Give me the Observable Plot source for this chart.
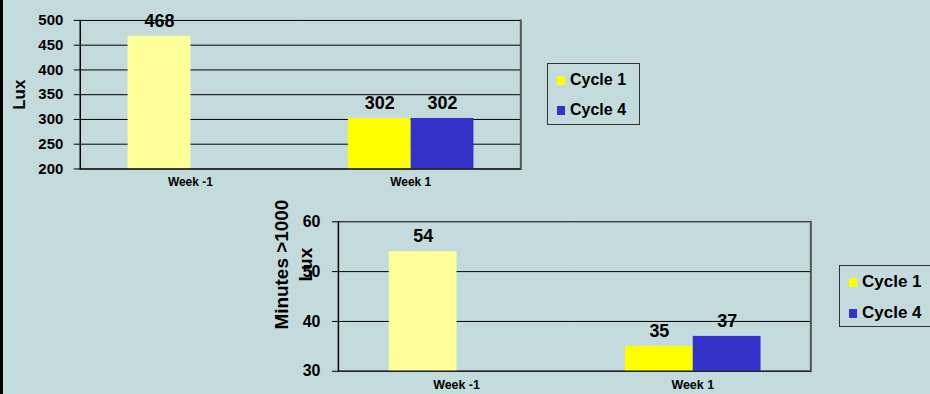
<!DOCTYPE html>
<html>
<head>
<meta charset="utf-8">
<script src="https://cdn.jsdelivr.net/npm/d3@7"></script>
<script src="https://cdn.jsdelivr.net/npm/@observablehq/plot@0.6"></script>
<style>
  html, body { margin: 0; padding: 0; }
  #page {
    position: relative; width: 930px; height: 394px; overflow: hidden;
    background: #c3dbdc; box-sizing: border-box; border-left: 3px solid #000;
    font-family: "Liberation Sans", Arial, sans-serif; font-weight: bold;
  }
  #page svg { position: absolute; left: -3px; top: 0; }
  .legend {
    position: absolute; border: 1px solid #333; box-sizing: border-box;
    background: #c3dbdc;
  }
  .legend .item { position: absolute; white-space: nowrap; color: #000; line-height: 20px; }
  .legend .sw { display: inline-block; width: 8px; height: 9px; margin-right: 5px; vertical-align: 0px; }
</style>
</head>
<body>
<div id="page"></div>
<script>
// Light levels by week and cycle
const weeks = ["Week -1", "Week 1"];
const cycles = ["Cycle 1", "Cycle 4"];
const luxCycle1 = [468, 302];
const luxCycle4 = [null, 302];
const luxTicks = [200, 250, 300, 350, 400, 450, 500];

// Minutes spent above 1000 lux
const minCycle1 = [54, 35];
const minCycle4 = [null, 37];
const minTicks = [30, 40, 50, 60];

const cycleColors = { "Cycle 1": "#ffff00", "Cycle 4": "#3333cc" };
const baselineColor = "#ffff99"; // pre-treatment week

function rows(c1, c4) {
  const out = [];
  weeks.forEach((w, i) => {
    if (c1[i] != null) out.push({ week: w, cycle: "Cycle 1", value: c1[i] });
    if (c4[i] != null) out.push({ week: w, cycle: "Cycle 4", value: c4[i] });
  });
  return out;
}
const fillOf = d => d.week === "Week -1" ? baselineColor : cycleColors[d.cycle];

function groupedChart({ data, ticks, margins, tickFont, labelFont, weekFont, tickPadding, weekPadding, yLabels }) {
  const [lo, hi] = d3.extent(ticks);
  return Plot.plot({
    width: 930, height: 394,
    ...margins,
    style: { background: "transparent", fontFamily: "Liberation Sans, Arial, sans-serif", fontWeight: "bold", overflow: "visible", color: "#000" },
    fx: { domain: weeks, padding: 0, axis: null },
    x: { domain: cycles, paddingInner: 0, paddingOuter: 0.73, axis: null },
    y: { domain: [lo, hi], axis: null },
    marks: [
      Plot.gridY(ticks, { stroke: "#000", strokeOpacity: 1, strokeWidth: 1 }),
      Plot.barY(data, { fx: "week", x: "cycle", y1: lo, y2: "value", fill: fillOf }),
      Plot.text(data, { fx: "week", x: "cycle", y: "value", text: d => String(d.value), dy: -15, fontSize: labelFont, fontWeight: "bold" }),
      Plot.axisY(ticks, { anchor: "left", facetAnchor: "left", tickSize: 6, tickPadding, fontSize: tickFont, label: null, stroke: "#000" }),
      Plot.axisFx({ anchor: "bottom", tickSize: 0, tickPadding: weekPadding, fontSize: weekFont, label: null }),
      Plot.frame({ anchor: "left", facetAnchor: "left", stroke: "#000", strokeWidth: 1.5 }),
      Plot.frame({ anchor: "right", facetAnchor: "right", stroke: "#555", strokeWidth: 2 }),
      Plot.ruleY([lo], { stroke: "#222", strokeWidth: 1.5 }),
      ...yLabels.map(l => Plot.text([{ week: weeks[0] }], {
        fx: "week", frameAnchor: "left", textAnchor: "middle", text: () => l.text, rotate: -90,
        dx: l.dx, dy: l.dy || 0, fontSize: l.size, fontWeight: "bold"
      }))
    ]
  });
}

const page = document.getElementById("page");

page.appendChild(groupedChart({
  data: rows(luxCycle1, luxCycle4),
  ticks: luxTicks,
  margins: { marginLeft: 79, marginRight: 408, marginTop: 20, marginBottom: 225 },
  tickFont: 15, labelFont: 18, weekFont: 12, tickPadding: 11, weekPadding: 9,
  yLabels: [{ text: "Lux", dx: -61, size: 17 }]
}));

page.appendChild(groupedChart({
  data: rows(minCycle1, minCycle4),
  ticks: minTicks,
  margins: { marginLeft: 338, marginRight: 117, marginTop: 222, marginBottom: 22 },
  tickFont: 16, labelFont: 18, weekFont: 12.5, tickPadding: 12, weekPadding: 9,
  yLabels: [
    { text: "Minutes >1000", dx: -57, dy: -32, size: 19 },
    { text: "Lux", dx: -33, dy: -32, size: 19 }
  ]
}));

function legend(left, top, width, height, rowTops, size) {
  const box = document.createElement("div");
  box.className = "legend";
  Object.assign(box.style, { left: left + "px", top: top + "px", width: width + "px", height: height + "px", fontSize: size + "px" });
  cycles.forEach((c, i) => {
    const item = document.createElement("div");
    item.className = "item";
    item.style.left = "9px";
    item.style.top = rowTops[i] + "px";
    item.innerHTML = `<span class="sw" style="background:${cycleColors[c]}"></span>${c}`;
    box.appendChild(item);
  });
  page.appendChild(box);
}
legend(544, 63, 93, 62, [6, 36], 16);
legend(836, 265, 100, 62, [6, 37], 17);
</script>
</body>
</html>
